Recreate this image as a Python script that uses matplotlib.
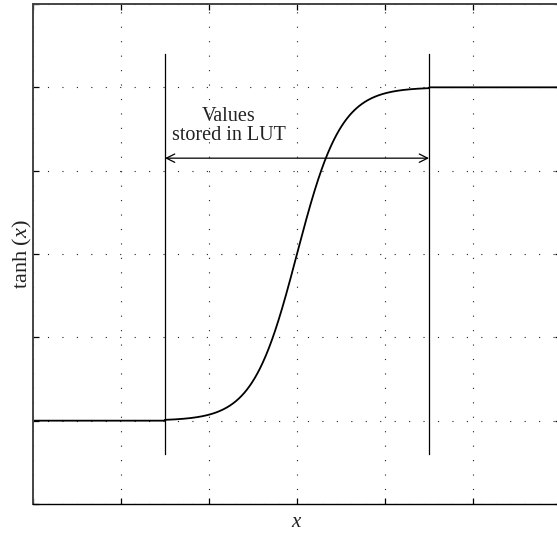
import numpy as np
import matplotlib
matplotlib.use("Agg")
import matplotlib.pyplot as plt

# Data
x_min, x_max = -6, 6
y_min, y_max = -1.5, 1.5
x_ticks = [-6, -4, -2, 0, 2, 4, 6]
y_ticks = [-1.5, -1.0, -0.5, 0.0, 0.5, 1.0, 1.5]
lut_lo, lut_hi = -3, 3
lut_line_ymin, lut_line_ymax = -1.2, 1.2
arrow_y = 0.575
label_text = "Values\nstored in LUT"
label_pos = (-1.55, 0.77)

x = np.linspace(x_min, x_max, 1201)
y = np.where(np.abs(x) <= lut_hi, np.tanh(x), np.sign(x) * 1.0)

plt.rcParams['font.family'] = ['Liberation Serif', 'DejaVu Serif']
plt.rcParams['mathtext.fontset'] = 'custom'
plt.rcParams['mathtext.rm'] = 'Liberation Serif'
plt.rcParams['mathtext.it'] = 'Liberation Serif:italic'

fig = plt.figure(figsize=(5.57, 5.33), dpi=100)
ax = fig.add_axes([33/557, 29/533, 528/557, 500/533])

ax.plot(x, y, color='black', lw=1.3)
for xv in (lut_lo, lut_hi):
    ax.plot([xv, xv], [lut_line_ymin, lut_line_ymax], color='black', lw=0.9)

ax.annotate('', xy=(lut_lo, arrow_y), xytext=(lut_hi, arrow_y),
            arrowprops=dict(arrowstyle='<->', color='black', lw=0.9,
                            shrinkA=0, shrinkB=0, mutation_scale=15))
ax.text(label_pos[0], label_pos[1], label_text, ha='center', va='center',
        fontsize=14.5, color='#222222', linespacing=1.0)

ax.set_xlim(x_min, x_max)
ax.set_ylim(y_min, y_max)
ax.set_xticks(x_ticks)
ax.set_yticks(y_ticks)
ax.set_xticklabels([])
ax.set_yticklabels([])
ax.tick_params(direction='in', length=4, width=0.9, top=True, right=True, colors='black')
ax.grid(True, color='#222222', lw=0.8, linestyle=(0, (1, 12)))

for s in ax.spines.values():
    s.set_linewidth(1.0)
ax.spines['left'].set_color('#444444')
ax.spines['top'].set_color('#444444')
ax.spines['left'].set_linewidth(1.4)
ax.spines['top'].set_linewidth(1.4)

ax.set_xlabel('$x$', fontsize=15, labelpad=3, color='#222222')
ax.set_ylabel('tanh $(x)$', fontsize=16, labelpad=-4, color='#222222')

fig.savefig('out.png', dpi=100)
